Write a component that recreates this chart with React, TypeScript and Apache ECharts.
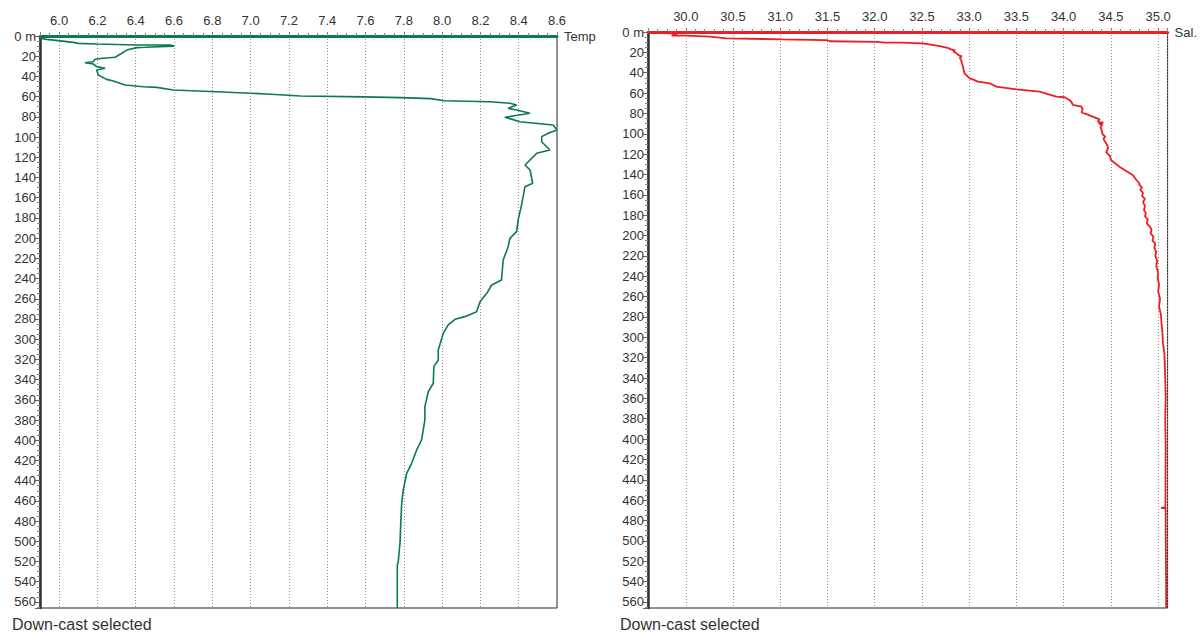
import React, { useEffect, useRef } from "react";
import * as echarts from "echarts";

// Temperature profile (deg C) vs depth (m)
const tempDepths = [
  0.5, 1.5, 2.3, 3.3, 4.6, 6.3, 7.3, 7.9, 8.9, 8.9, 10.0, 11.2, 11.5, 13.9, 17.1, 21, 22, 23, 25.4, 26.4,
  27.7, 30.3, 32, 33.6, 38.6, 42.9, 44.5, 48.5, 50.2, 50.8, 53.4, 55.1, 57.4, 59.4, 60.2, 61.0, 62.0, 64.0,
  65.0, 66.6, 68.3, 71.6, 73.2, 76.5, 80.4, 81.5, 84.8, 88.1, 93, 96.3, 99.6, 104.6, 112.8, 116.1, 122.7,
  127.6, 132.6, 145.7, 149.1, 167.2, 182, 193.6, 200.2, 208.5, 221.6, 241.4, 246.4, 254.6, 262.9, 272.8,
  277.7, 280.3, 285.9, 294.2, 310.7, 320.6, 327.2, 343.6, 351.9, 366.8, 379.9, 399.7, 409.6, 422.8, 432.7,
  449.2, 462.4, 482.2, 502, 520.2, 523.4, 566,
];
const tempValues = [
  5.9, 5.92, 5.9, 5.935, 5.995, 6.074, 6.1, 6.196, 6.405, 6.58, 6.6, 6.45, 6.405, 6.353, 6.327, 6.292,
  6.23, 6.187, 6.178, 6.135, 6.178, 6.196, 6.24, 6.196, 6.204, 6.248, 6.283, 6.344, 6.44, 6.51, 6.596,
  6.823, 7.084, 7.26, 7.59, 7.78, 7.94, 8.01, 8.25, 8.354, 8.389, 8.345, 8.389, 8.459, 8.328, 8.35, 8.406,
  8.58, 8.6, 8.554, 8.52, 8.52, 8.563, 8.494, 8.459, 8.433, 8.459, 8.473, 8.433, 8.415, 8.397, 8.389,
  8.354, 8.345, 8.319, 8.31, 8.259, 8.233, 8.198, 8.18, 8.119, 8.067, 8.032, 8.006, 7.98, 7.98, 7.957,
  7.954, 7.928, 7.91, 7.91, 7.893, 7.867, 7.841, 7.815, 7.797, 7.789, 7.784, 7.78, 7.771, 7.766, 7.766,
];

// Salinity profile vs depth (m)
const salDepths = [
  0.5, 1.2, 1.6, 2.5, 3.6, 3.6, 4.6, 6.2, 7.2, 7.9, 9.1, 9.8, 10.5, 10.5, 11.1, 13.8, 15.5, 17, 18, 19, 20.9,
  23, 24, 25.8, 27.5, 30, 34, 37, 40.6, 45.5, 47, 48.8, 50.4, 53.7, 56.3, 58.6, 59.6, 63.5, 64.1, 66.8, 68.5,
  71.7, 73.4, 75.9, 79.3, 79.9, 85.8, 88, 89, 90, 91, 93, 96, 100, 103, 105, 108, 111, 114.2, 118, 122, 125.7,
  132.3, 140.5, 145.4, 148.6, 150, 153, 155, 158, 161, 164, 167, 171, 175, 178, 181, 184, 188, 191, 194, 198,
  201, 205, 208, 212, 216, 220, 225, 230, 236, 242, 248, 255, 262, 270, 278, 286, 295, 305, 315, 325,
  340, 360, 380, 410, 440, 467, 467.6, 468, 490, 520, 545, 564.5, 566,
];
const salValues = [
  29.6, 29.75, 29.9, 29.9, 29.85, 30.0, 30.256, 30.43, 31.0, 31.49, 31.525, 32.02, 32.11, 32.27, 32.51,
  32.69, 32.77, 32.81, 32.85, 32.83, 32.865, 32.89, 32.92, 32.9, 32.916, 32.92, 32.935, 32.94, 32.95, 33.005,
  33.05, 33.09, 33.217, 33.287, 33.5, 33.746, 33.78, 33.92, 34.01, 34.06, 34.08, 34.098, 34.19, 34.2, 34.19,
  34.22, 34.38, 34.36, 34.42, 34.37, 34.41, 34.39, 34.4, 34.41, 34.44, 34.42, 34.44, 34.46, 34.47, 34.45,
  34.49, 34.5, 34.59, 34.73, 34.77, 34.8, 34.8, 34.83, 34.81, 34.84, 34.83, 34.86, 34.84, 34.86, 34.85,
  34.87, 34.86, 34.89, 34.88, 34.91, 34.93, 34.92, 34.95, 34.94, 34.97, 34.96, 34.98, 34.97, 34.99, 34.98,
  35.0, 34.995, 35.01, 35.0, 35.02, 35.01, 35.03, 35.035, 35.045, 35.05, 35.065, 35.07, 35.075, 35.08,
  35.075, 35.08, 35.078, 35.078, 35.03, 35.08, 35.08, 35.082, 35.085, 35.085, 35.085,
];

const depthTickInterval = 20;
const tempRange = [5.9, 8.6];
const salRange = [29.6, 35.1];
const depthMax = 566;

const GREEN = "#0b7a4e";
const RED = "#ee1d25";
const FONT = "'Liberation Sans', Arial, sans-serif";

function xAxisCfg(range: number[], gridIndex: number, color: string, name: string, split: number, minorSplit: number) {
  return {
    type: "value",
    gridIndex,
    position: "top",
    min: range[0],
    max: range[1],
    splitNumber: split,
    name,
    nameLocation: "end",
    nameGap: 7,
    nameTextStyle: { color: "#333", fontSize: 13, fontFamily: FONT, verticalAlign: "middle" },
    axisLine: { show: true, onZero: false, lineStyle: { color, width: 3 } },
    axisTick: { show: true, length: 4, lineStyle: { color: "#8a8080" } },
    minorTick: { show: true, splitNumber: minorSplit, length: 3, lineStyle: { color: "#8a8080" } },
    axisLabel: {
      color: "#333",
      fontSize: 13,
      fontFamily: FONT,
      margin: 9,
      showMinLabel: false,
      showMaxLabel: range[1] === 8.6,
      formatter: (v: number) => v.toFixed(1),
    },
    splitLine: { show: true, lineStyle: { color: "#9a9090", type: [1, 2], width: 1 } },
  };
}

function yAxisCfg(gridIndex: number) {
  return {
    type: "value",
    gridIndex,
    inverse: true,
    min: 0,
    max: depthMax,
    interval: depthTickInterval,
    axisLine: { show: true, onZero: false, lineStyle: { color: "#333", width: 2.5 } },
    axisTick: { show: true, length: 5, lineStyle: { color: "#666" } },
    minorTick: { show: true, splitNumber: 4, length: 3, lineStyle: { color: "#8a8080" } },
    axisLabel: {
      color: "#333",
      fontSize: 13,
      fontFamily: FONT,
      margin: 4,
      showMaxLabel: false,
      formatter: (v: number) => (v === 0 ? "0 m" : String(v)),
    },
    splitLine: { show: false },
  };
}

export default function App() {
  const ref = useRef<HTMLDivElement>(null);
  useEffect(() => {
    if (!ref.current) return;
    const chart = echarts.init(ref.current, null, { renderer: "svg" });
    chart.setOption({
      animation: false,
      backgroundColor: "#fff",
      grid: [
        { left: 40, right: 643, top: 36, bottom: 24, show: true, borderColor: "#222", borderWidth: 1, backgroundColor: "transparent" },
        { left: 648, right: 32, top: 32, bottom: 24, show: true, borderColor: "#222", borderWidth: 1, backgroundColor: "transparent" },
      ],
      xAxis: [
        xAxisCfg(tempRange, 0, GREEN, "Temp", 13, 4),
        xAxisCfg(salRange, 1, RED, "Sal.", 11, 5),
      ],
      yAxis: [yAxisCfg(0), yAxisCfg(1)],
      graphic: [
        { type: "text", left: 12, top: 616, style: { text: "Down-cast selected", fill: "#333", fontSize: 16, fontFamily: FONT } },
        { type: "text", left: 620, top: 616, style: { text: "Down-cast selected", fill: "#333", fontSize: 16, fontFamily: FONT } },
      ],
      series: [
        {
          type: "line",
          xAxisIndex: 0,
          yAxisIndex: 0,
          showSymbol: false,
          data: tempDepths.map((d, i) => [tempValues[i], d]),
          lineStyle: { color: GREEN, width: 1.6 },
        },
        {
          type: "line",
          xAxisIndex: 1,
          yAxisIndex: 1,
          showSymbol: false,
          data: salDepths.map((d, i) => [salValues[i], d]),
          lineStyle: { color: RED, width: 1.8 },
        },
      ],
    });
    return () => chart.dispose();
  }, []);
  return <div ref={ref} style={{ position: "absolute", left: 0, top: 0, width: 1200, height: 632 }} />;
}
